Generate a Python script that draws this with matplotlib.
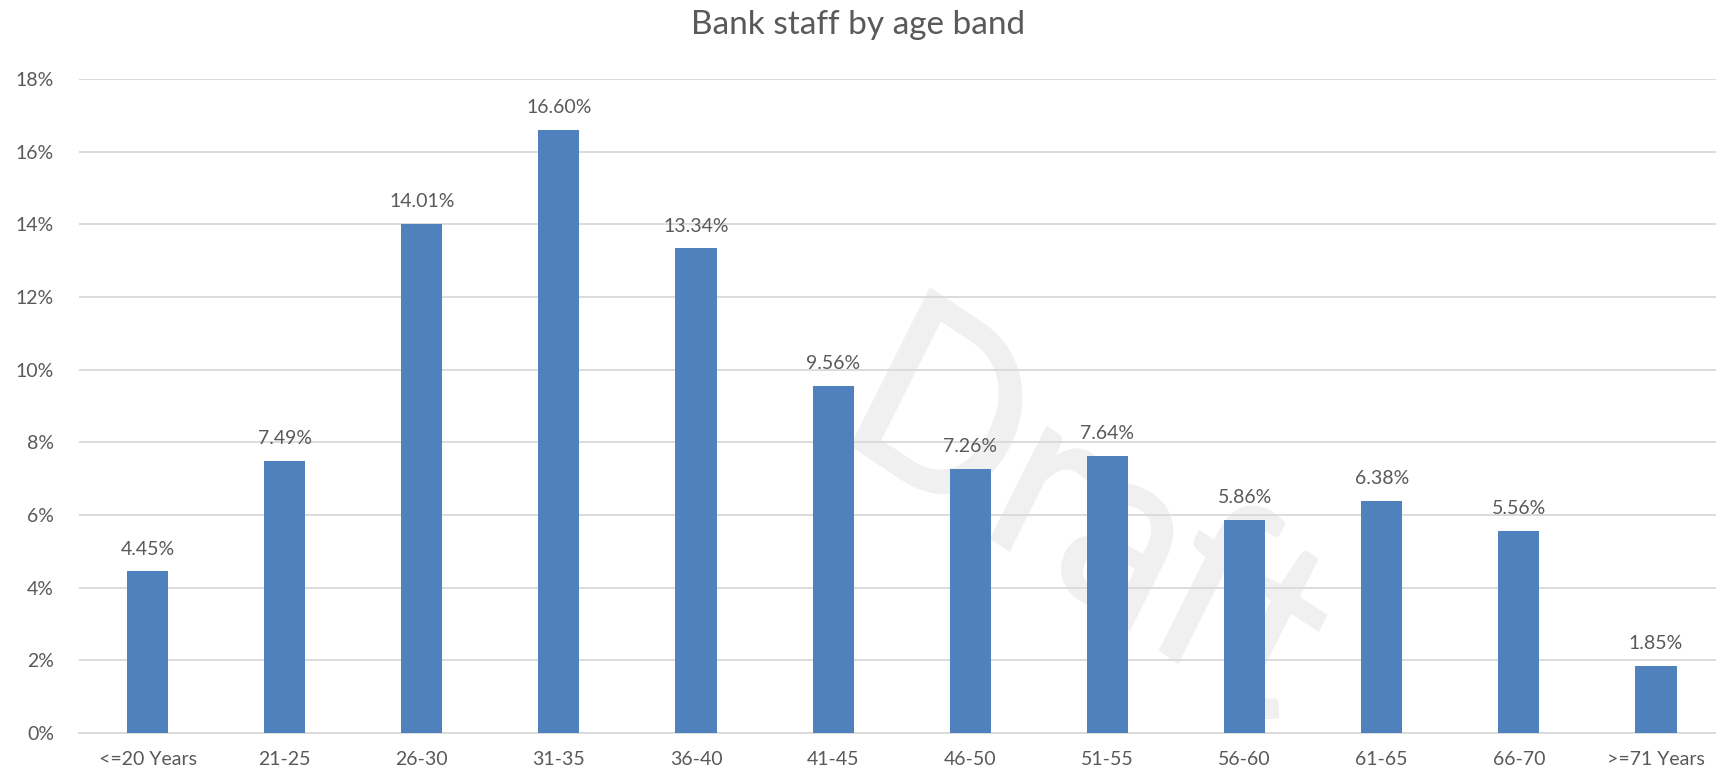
import matplotlib.pyplot as plt
from matplotlib.ticker import PercentFormatter
from matplotlib.textpath import TextPath
from matplotlib.patches import PathPatch
from matplotlib.font_manager import FontProperties
from matplotlib.transforms import Affine2D

# ==========================
# Data: share of staff by age
# ==========================
age_bands = ['<=20 Years', '21-25', '26-30', '31-35', '36-40', '41-45',
             '46-50', '51-55', '56-60', '61-65', '66-70', '>=71 Years']
staff_share = [4.45, 7.49, 14.01, 16.60, 13.34, 9.56,
               7.26, 7.64, 5.86, 6.38, 5.56, 1.85]
y_ticks = [0, 2, 4, 6, 8, 10, 12, 14, 16, 18]

bar_color = '#4f81bd'
text_color = '#595959'
grid_color = '#d9d9d9'

plt.rcParams['font.family'] = ['Lato', 'DejaVu Sans']

fig = plt.figure(figsize=(17.16, 7.75), dpi=100)
ax = fig.add_axes([0.046, 0.054, 0.959, 0.844])

x = range(len(age_bands))
bars = ax.bar(x, staff_share, width=0.30, color=bar_color, zorder=3)

# value labels on top of each bar
for rect, val in zip(bars, staff_share):
    ax.annotate(f'{val:.2f}%', (rect.get_x() + rect.get_width() / 2, val),
                xytext=(0, 10), textcoords='offset points',
                ha='center', va='bottom', fontsize=14, color=text_color, zorder=4)

ax.set_xlim(-0.5, len(age_bands) - 0.5)
ax.set_ylim(0, 18)
ax.set_yticks(y_ticks)
ax.yaxis.set_major_formatter(PercentFormatter(decimals=0))
ax.set_xticks(list(x))
ax.set_xticklabels(age_bands)
ax.tick_params(axis='both', length=0, labelsize=14, colors=text_color)
ax.tick_params(axis='x', pad=13)
ax.tick_params(axis='y', pad=18)

ax.grid(axis='y', color=grid_color, linewidth=1.3, zorder=1)
for side in ['top', 'right', 'left']:
    ax.spines[side].set_visible(False)
ax.spines['bottom'].set_color(grid_color)
ax.spines['bottom'].set_linewidth(1.3)

# faint "Draft" watermark: rotated and stretched a little, behind the grid
wm = TextPath((0, 0), 'Draft', size=1, prop=FontProperties(family='Lato'))
ext = wm.get_extents()
cx, cy = (ext.x0 + ext.x1) / 2, (ext.y0 + ext.y1) / 2
wm_trans = (Affine2D().translate(-cx, -cy).scale(218)
            .rotate_deg(-30).scale(1, 1.15).translate(1102, 268))
ax.add_patch(PathPatch(wm, transform=wm_trans, facecolor='#f0f0f0',
                       edgecolor='#f0f0f0', linewidth=2.5, zorder=0))

fig.text(0.5, 0.968, 'Bank staff by age band', ha='center', va='center',
         fontsize=24, color=text_color)

plt.savefig('out.png', dpi=100)
plt.close()
